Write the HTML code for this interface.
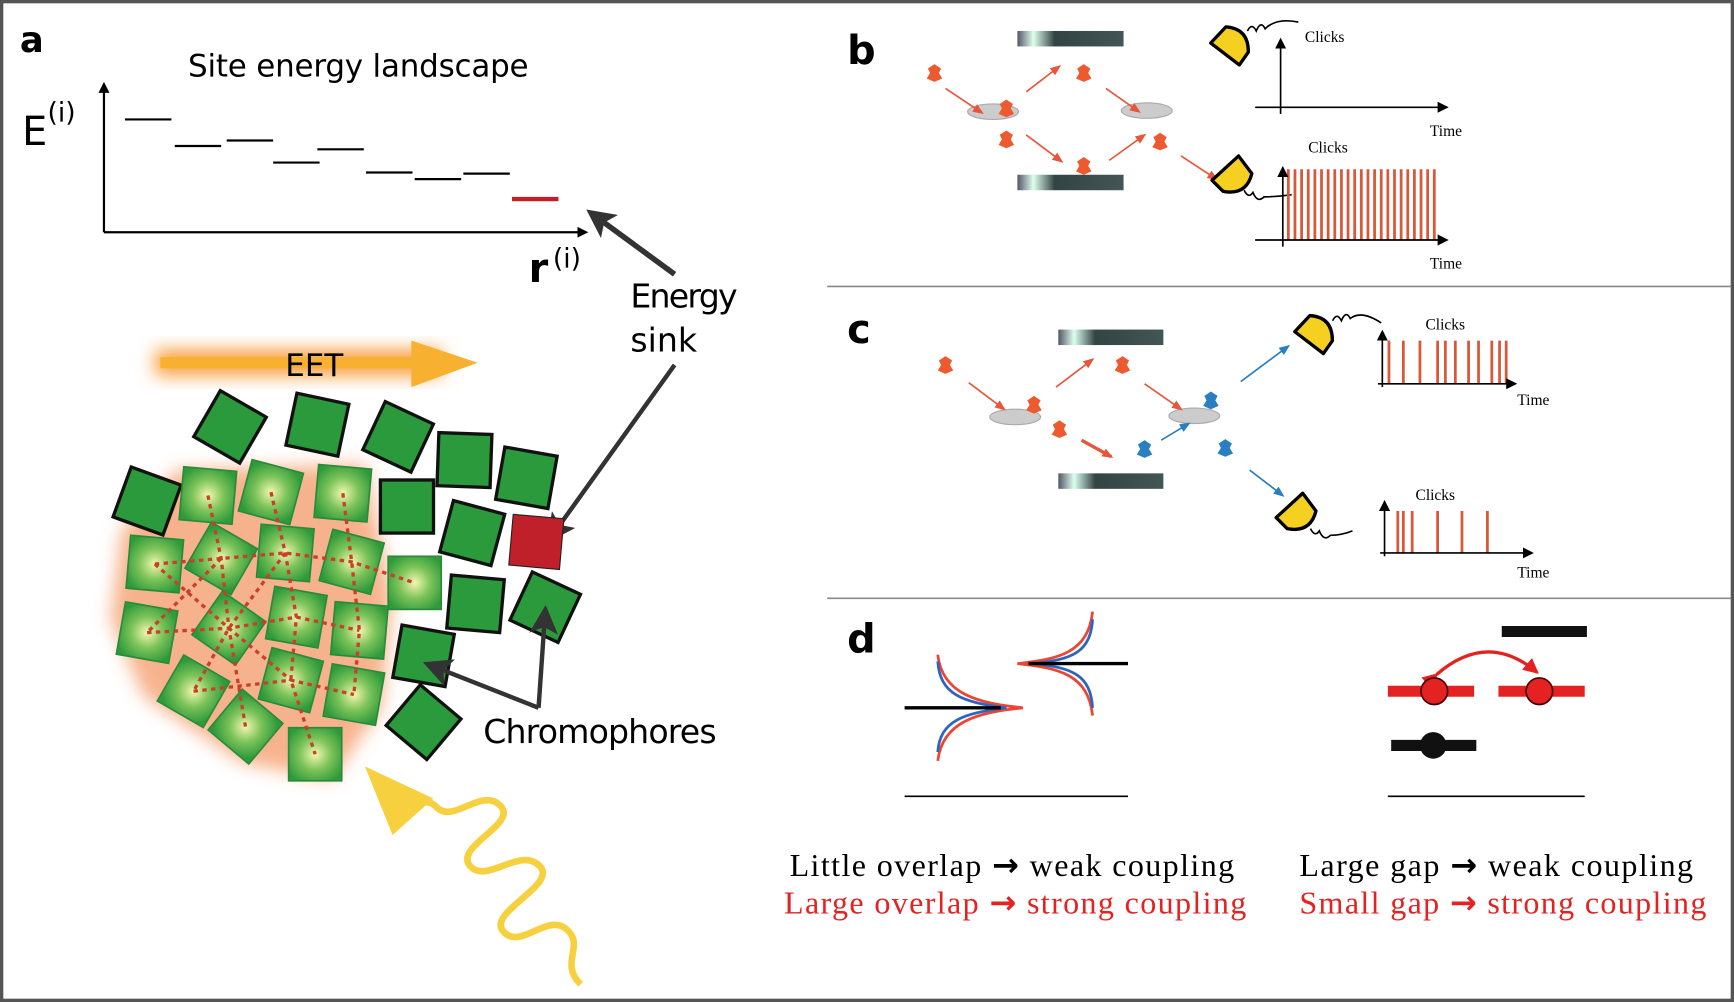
<!DOCTYPE html>
<html><head><meta charset="utf-8"><style>
html,body{margin:0;padding:0;background:#fff;}
svg{display:block;}
.s{font-family:"DejaVu Sans","Liberation Sans",sans-serif;}
.r{font-family:"Liberation Serif",serif;}
</style></head><body>
<svg width="1734" height="1002" viewBox="0 0 1568 906" preserveAspectRatio="none" xmlns="http://www.w3.org/2000/svg">
<defs>
<radialGradient id="gl" cx="50%" cy="50%" r="60%"><stop offset="0" stop-color="#f4f7b0"/><stop offset="0.5" stop-color="#7cc35a"/><stop offset="1" stop-color="#2f9a3a"/></radialGradient>
<filter id="blur" x="-50%" y="-50%" width="200%" height="200%"><feGaussianBlur stdDeviation="8"/></filter>
<linearGradient id="mir" x1="0" y1="0" x2="1" y2="0"><stop offset="0" stop-color="#556"/><stop offset="0.15" stop-color="#dfe"/><stop offset="0.35" stop-color="#344"/><stop offset="1" stop-color="#455"/></linearGradient>
<marker id="ak" markerWidth="10" markerHeight="10" refX="8" refY="5" orient="auto" markerUnits="userSpaceOnUse"><path d="M0,0 L10,5 L0,10 Z" fill="#000"/></marker>
<marker id="ag" markerWidth="26" markerHeight="26" refX="20" refY="13" orient="auto" markerUnits="userSpaceOnUse"><path d="M0,0 L26,13 L0,26 L6,13 Z" fill="#333"/></marker>
<marker id="ar" markerWidth="10" markerHeight="10" refX="8" refY="5" orient="auto" markerUnits="userSpaceOnUse"><path d="M0,1 L10,5 L0,9 Z" fill="#e8553a"/></marker>
<marker id="ab" markerWidth="10" markerHeight="10" refX="8" refY="5" orient="auto" markerUnits="userSpaceOnUse"><path d="M0,1 L10,5 L0,9 Z" fill="#2a7fc0"/></marker>
<marker id="ard" markerWidth="16" markerHeight="16" refX="12" refY="8" orient="auto" markerUnits="userSpaceOnUse"><path d="M0,1 L14,8 L0,15 Z" fill="#e52222"/></marker>
<g id="ph"><path d="M-6,-4 L0,-8 L6,-4 L4,0 L7,5 L0,8 L-7,5 L-4,0 Z" fill="#ee5a30"/></g>
<g id="phb"><path d="M-6,-4 L0,-8 L6,-4 L4,0 L7,5 L0,8 L-7,5 L-4,0 Z" fill="#2a7fc0"/></g>
<g id="det"><path d="M-16,-8 L0,-20 Q20,-15 16,6 L6,16 Z" fill="#f5d020" stroke="#000" stroke-width="3" stroke-linejoin="round"/></g>
<g id="bs"><ellipse cx="0" cy="0" rx="23" ry="7" fill="#ccc" stroke="#aaa"/></g>
</defs>
<rect x="1.5" y="1.5" width="1565" height="903" fill="#fff" stroke="#555" stroke-width="3"/>
<line x1="748" y1="259" x2="1565" y2="259" stroke="#888" stroke-width="1.5"/>
<line x1="748" y1="541" x2="1565" y2="541" stroke="#888" stroke-width="1.5"/>

<!-- panel a -->
<text x="18" y="47" class="s" font-size="32" font-weight="bold">a</text>
<text x="170" y="69" class="s" font-size="28" textLength="308">Site energy landscape</text>
<text x="20" y="131" class="s" font-size="36">E</text><text x="43" y="110" class="s" font-size="24">(i)</text>
<line x1="94" y1="210" x2="94" y2="76" stroke="#000" stroke-width="2" marker-end="url(#ak)"/>
<line x1="94" y1="210" x2="530" y2="210" stroke="#000" stroke-width="2" marker-end="url(#ak)"/>
<g stroke="#000" stroke-width="2">
<line x1="113" y1="108" x2="155" y2="108"/><line x1="158" y1="132" x2="200" y2="132"/><line x1="205" y1="127" x2="247" y2="127"/><line x1="247" y1="147" x2="289" y2="147"/><line x1="287" y1="135" x2="329" y2="135"/><line x1="331" y1="156" x2="373" y2="156"/><line x1="375" y1="162" x2="417" y2="162"/><line x1="419" y1="157" x2="461" y2="157"/>
</g>
<line x1="463" y1="180" x2="505" y2="180" stroke="#c0202a" stroke-width="4"/>
<text x="478" y="255" class="s" font-size="36" font-weight="bold">r</text><text x="500" y="242" class="s" font-size="24">(i)</text>
<line x1="610" y1="248" x2="535" y2="193" stroke="#333" stroke-width="5" marker-end="url(#ag)"/>
<text x="570" y="278" class="s" font-size="30" textLength="97">Energy</text>
<text x="570" y="318" class="s" font-size="30">sink</text>
<line x1="610" y1="330" x2="498" y2="486" stroke="#333" stroke-width="4" marker-end="url(#ag)"/>
<!-- EET -->
<g filter="url(#blur)"><rect x="140" y="316" width="260" height="24" fill="#f8a040"/></g>
<line x1="145" y1="328" x2="390" y2="328" stroke="#f8b030" stroke-width="10"/>
<path d="M372,308 L432,328 L372,350 Z" fill="#f8b030"/>
<text x="258" y="340" class="s" font-size="28">EET</text>
<!-- glow background -->
<g filter="url(#blur)" opacity="0.8">
<path d="M160,425 L330,420 L355,540 L345,640 L300,705 L220,690 L130,630 L100,560 L110,480 Z" fill="#f5a070"/>
</g>
<g stroke="#111" stroke-width="3" fill="#2a9a3c">
<rect x="-24" y="-24" width="48" height="48" transform="translate(208,386) rotate(30)"/>
<rect x="-24" y="-24" width="48" height="48" transform="translate(287,384) rotate(12)"/>
<rect x="-24" y="-24" width="48" height="48" transform="translate(360,395) rotate(25)"/>
<rect x="-24" y="-24" width="48" height="48" transform="translate(420,416) rotate(2)"/>
<rect x="-24" y="-24" width="48" height="48" transform="translate(476,432) rotate(10)"/>
<rect x="-24" y="-24" width="48" height="48" transform="translate(133,453) rotate(20)"/>
<rect x="-24" y="-24" width="48" height="48" transform="translate(368,458) rotate(0)"/>
<rect x="-24" y="-24" width="48" height="48" transform="translate(427,482) rotate(15)"/>
<rect x="-24" y="-24" width="48" height="48" transform="translate(430,546) rotate(5)"/>
<rect x="-24" y="-24" width="48" height="48" transform="translate(493,549) rotate(25)"/>
<rect x="-24" y="-24" width="48" height="48" transform="translate(383,593) rotate(10)"/>
<rect x="-24" y="-24" width="48" height="48" transform="translate(383,653) rotate(40)"/>
</g>
<rect x="-23" y="-23" width="46" height="46" transform="translate(485,490) rotate(5)" fill="#c0202a" stroke="#222" stroke-width="1"/>
<g stroke="#2a8a3a" stroke-width="1.5" fill="url(#gl)">
<rect x="-24" y="-24" width="48" height="48" transform="translate(188,448) rotate(5)"/>
<rect x="-24" y="-24" width="48" height="48" transform="translate(245,445) rotate(15)"/>
<rect x="-24" y="-24" width="48" height="48" transform="translate(310,446) rotate(5)"/>
<rect x="-24" y="-24" width="48" height="48" transform="translate(140,510) rotate(5)"/>
<rect x="-24" y="-24" width="48" height="48" transform="translate(200,505) rotate(30)"/>
<rect x="-24" y="-24" width="48" height="48" transform="translate(258,500) rotate(5)"/>
<rect x="-24" y="-24" width="48" height="48" transform="translate(318,508) rotate(15)"/>
<rect x="-24" y="-24" width="48" height="48" transform="translate(375,527) rotate(0)"/>
<rect x="-24" y="-24" width="48" height="48" transform="translate(133,572) rotate(10)"/>
<rect x="-24" y="-24" width="48" height="48" transform="translate(207,568) rotate(35)"/>
<rect x="-24" y="-24" width="48" height="48" transform="translate(268,558) rotate(10)"/>
<rect x="-24" y="-24" width="48" height="48" transform="translate(325,570) rotate(5)"/>
<rect x="-24" y="-24" width="48" height="48" transform="translate(175,625) rotate(30)"/>
<rect x="-24" y="-24" width="48" height="48" transform="translate(263,615) rotate(15)"/>
<rect x="-24" y="-24" width="48" height="48" transform="translate(320,628) rotate(10)"/>
<rect x="-24" y="-24" width="48" height="48" transform="translate(222,657) rotate(40)"/>
<rect x="-24" y="-24" width="48" height="48" transform="translate(285,682) rotate(0)"/>
</g>
<g stroke="#c8402a" stroke-width="3" stroke-dasharray="4,4" fill="none">
<path d="M140,510 L200,505 L258,500 L318,508 L375,527"/>
<path d="M188,448 L200,505 L207,568 L222,657"/>
<path d="M245,445 L258,500 L268,558 L263,615 L285,682"/>
<path d="M310,446 L318,508 L325,570 L320,628"/>
<path d="M133,572 L207,568 L268,558 L325,570"/>
<path d="M175,625 L263,615 L320,628"/>
<path d="M140,510 L207,568 L263,615"/>
<path d="M200,505 L133,572"/>
<path d="M258,500 L207,568 L175,625"/>
</g>
<text x="437" y="672" class="s" font-size="30" textLength="211">Chromophores</text>
<line x1="487" y1="640" x2="388" y2="601" stroke="#333" stroke-width="4" marker-end="url(#ag)"/>
<line x1="487" y1="640" x2="493" y2="553" stroke="#333" stroke-width="4" marker-end="url(#ag)"/>
<!-- light -->
<path d="M525,890 C505,870 530,855 512,840 C495,825 470,860 455,842 C440,825 505,800 488,783 C470,765 440,800 425,783 C410,765 470,745 452,728 C435,712 410,745 395,730 C385,720 380,728 372,735" fill="none" stroke="#f7d040" stroke-width="6"/>
<path d="M330,693 L392,722 L355,755 Z" fill="#f7d040"/>

<!-- panel b -->
<text x="766" y="58" class="s" font-size="36" font-weight="bold">b</text>
<rect x="920" y="28" width="96" height="14" fill="url(#mir)"/>
<rect x="920" y="158" width="96" height="14" fill="url(#mir)"/>
<use href="#bs" x="898" y="101"/><use href="#bs" x="1037" y="100"/>
<g stroke="#e8553a" stroke-width="1.5" fill="none">
<line x1="855" y1="80" x2="888" y2="102" marker-end="url(#ar)"/>
<line x1="928" y1="83" x2="958" y2="60" marker-end="url(#ar)"/>
<line x1="928" y1="122" x2="960" y2="146" marker-end="url(#ar)"/>
<line x1="1000" y1="80" x2="1030" y2="101" marker-end="url(#ar)"/>
<line x1="1003" y1="145" x2="1035" y2="122" marker-end="url(#ar)"/>
<line x1="1068" y1="141" x2="1100" y2="162" marker-end="url(#ar)"/>
</g>
<use href="#ph" x="845" y="66"/><use href="#ph" x="910" y="98"/><use href="#ph" x="910" y="126"/><use href="#ph" x="980" y="66"/><use href="#ph" x="980" y="150"/><use href="#ph" x="1049" y="128"/>
<use href="#det" transform="translate(1112,44) rotate(-10)"/>
<use href="#det" transform="translate(1112,157) rotate(90)"/>
<path d="M1128,28 q4,-8 8,0 q4,-10 8,-2 q10,-10 30,-6" fill="none" stroke="#000" stroke-width="1.5"/>
<path d="M1125,172 q4,8 8,2 q4,10 10,4 q10,0 25,-2" fill="none" stroke="#000" stroke-width="1.5"/>
<line x1="1158" y1="103" x2="1158" y2="36" stroke="#000" stroke-width="1.5" marker-end="url(#ak)"/>
<line x1="1135" y1="97" x2="1308" y2="97" stroke="#000" stroke-width="1.5" marker-end="url(#ak)"/>
<text x="1180" y="38" class="r" font-size="14">Clicks</text>
<text x="1293" y="123" class="r" font-size="14">Time</text>
<g stroke="#d8583a" stroke-width="2.5">
<line x1="1165" y1="153" x2="1165" y2="217"/><line x1="1171" y1="153" x2="1171" y2="217"/><line x1="1177" y1="153" x2="1177" y2="217"/><line x1="1183" y1="153" x2="1183" y2="217"/><line x1="1189" y1="153" x2="1189" y2="217"/><line x1="1195" y1="153" x2="1195" y2="217"/><line x1="1201" y1="153" x2="1201" y2="217"/><line x1="1207" y1="153" x2="1207" y2="217"/><line x1="1213" y1="153" x2="1213" y2="217"/><line x1="1219" y1="153" x2="1219" y2="217"/><line x1="1225" y1="153" x2="1225" y2="217"/><line x1="1231" y1="153" x2="1231" y2="217"/><line x1="1237" y1="153" x2="1237" y2="217"/><line x1="1243" y1="153" x2="1243" y2="217"/><line x1="1249" y1="153" x2="1249" y2="217"/><line x1="1255" y1="153" x2="1255" y2="217"/><line x1="1261" y1="153" x2="1261" y2="217"/><line x1="1267" y1="153" x2="1267" y2="217"/><line x1="1273" y1="153" x2="1273" y2="217"/><line x1="1279" y1="153" x2="1279" y2="217"/><line x1="1285" y1="153" x2="1285" y2="217"/><line x1="1291" y1="153" x2="1291" y2="217"/><line x1="1297" y1="153" x2="1297" y2="217"/>
</g>
<line x1="1160" y1="223" x2="1160" y2="152" stroke="#000" stroke-width="1.5" marker-end="url(#ak)"/>
<line x1="1135" y1="217" x2="1308" y2="217" stroke="#000" stroke-width="1.5" marker-end="url(#ak)"/>
<text x="1183" y="138" class="r" font-size="14">Clicks</text>
<text x="1293" y="243" class="r" font-size="14">Time</text>

<!-- panel c -->
<text x="766" y="310" class="s" font-size="36" font-weight="bold">c</text>
<rect x="957" y="298" width="95" height="14" fill="url(#mir)"/>
<rect x="957" y="428" width="95" height="14" fill="url(#mir)"/>
<use href="#bs" x="918" y="377"/><use href="#bs" x="1080" y="376"/>
<g stroke="#e8553a" stroke-width="1.5" fill="none">
<line x1="876" y1="346" x2="908" y2="370" marker-end="url(#ar)"/>
<line x1="955" y1="350" x2="988" y2="325" marker-end="url(#ar)"/>
<line x1="1035" y1="347" x2="1068" y2="370" marker-end="url(#ar)"/>
<line x1="978" y1="398" x2="1005" y2="413" stroke-width="3" marker-end="url(#ar)"/>
</g>
<g stroke="#2a7fc0" stroke-width="1.5" fill="none">
<line x1="1050" y1="398" x2="1075" y2="383" marker-end="url(#ab)"/>
<line x1="1122" y1="345" x2="1165" y2="313" marker-end="url(#ab)"/>
<line x1="1130" y1="425" x2="1160" y2="448" marker-end="url(#ab)"/>
</g>
<use href="#ph" x="855" y="330"/><use href="#ph" x="935" y="366"/><use href="#ph" x="958" y="388"/><use href="#ph" x="1015" y="330"/>
<use href="#phb" x="1035" y="406"/><use href="#phb" x="1095" y="362"/><use href="#phb" x="1108" y="405"/>
<use href="#det" transform="translate(1188,305) rotate(-10)"/>
<use href="#det" transform="translate(1170,462) rotate(90)"/>
<path d="M1205,290 q4,-8 8,0 q4,-10 8,-2 q10,-8 28,4" fill="none" stroke="#000" stroke-width="1.5"/>
<path d="M1185,478 q4,8 8,2 q4,10 10,4 q10,0 20,-4" fill="none" stroke="#000" stroke-width="1.5"/>
<g stroke="#d8583a" stroke-width="2.5">
<line x1="1256" y1="308" x2="1256" y2="347"/><line x1="1269" y1="308" x2="1269" y2="347"/><line x1="1284" y1="308" x2="1284" y2="347"/><line x1="1300" y1="308" x2="1300" y2="347"/><line x1="1307" y1="308" x2="1307" y2="347"/><line x1="1316" y1="308" x2="1316" y2="347"/><line x1="1328" y1="308" x2="1328" y2="347"/><line x1="1337" y1="308" x2="1337" y2="347"/><line x1="1349" y1="308" x2="1349" y2="347"/><line x1="1356" y1="308" x2="1356" y2="347"/><line x1="1362" y1="308" x2="1362" y2="347"/>
<line x1="1264" y1="462" x2="1264" y2="500"/><line x1="1269" y1="462" x2="1269" y2="500"/><line x1="1277" y1="462" x2="1277" y2="500"/><line x1="1300" y1="462" x2="1300" y2="500"/><line x1="1322" y1="462" x2="1322" y2="500"/><line x1="1345" y1="462" x2="1345" y2="500"/>
</g>
<line x1="1250" y1="350" x2="1250" y2="300" stroke="#000" stroke-width="1.5" marker-end="url(#ak)"/>
<line x1="1246" y1="347" x2="1370" y2="347" stroke="#000" stroke-width="1.5" marker-end="url(#ak)"/>
<line x1="1252" y1="503" x2="1252" y2="454" stroke="#000" stroke-width="1.5" marker-end="url(#ak)"/>
<line x1="1248" y1="500" x2="1385" y2="500" stroke="#000" stroke-width="1.5" marker-end="url(#ak)"/>
<text x="1289" y="298" class="r" font-size="14">Clicks</text>
<text x="1372" y="366" class="r" font-size="14">Time</text>
<text x="1280" y="452" class="r" font-size="14">Clicks</text>
<text x="1372" y="522" class="r" font-size="14">Time</text>

<!-- panel d -->
<text x="766" y="590" class="s" font-size="36" font-weight="bold">d</text>
<path d="M848,592 C852,628 885,636 925,640 C885,644 852,652 848,688" fill="none" stroke="#ee4433" stroke-width="2.5"/>
<path d="M848,598 C850,628 870,635 910,640 C870,645 850,652 848,680" fill="none" stroke="#2a66c0" stroke-width="2.5"/>
<line x1="818" y1="640" x2="905" y2="640" stroke="#000" stroke-width="3"/>
<path d="M988,553 C984,590 958,596 920,600 C958,604 984,610 988,647" fill="none" stroke="#ee4433" stroke-width="2.5"/>
<path d="M988,560 C986,590 970,596 935,600 C970,604 986,610 988,640" fill="none" stroke="#2a66c0" stroke-width="2.5"/>
<line x1="930" y1="600" x2="1020" y2="600" stroke="#000" stroke-width="3"/>
<line x1="818" y1="720" x2="1020" y2="720" stroke="#000" stroke-width="1.5"/>
<line x1="1358" y1="571" x2="1435" y2="571" stroke="#111" stroke-width="10"/>
<line x1="1255" y1="625" x2="1333" y2="625" stroke="#e52222" stroke-width="10"/>
<line x1="1355" y1="625" x2="1433" y2="625" stroke="#e52222" stroke-width="10"/>
<path d="M1299,610 Q1345,570 1390,608" fill="none" stroke="#e52222" stroke-width="3" marker-start="url(#ard)" marker-end="url(#ard)"/>
<circle cx="1297" cy="625" r="12" fill="#e52222" stroke="#400" stroke-width="1.5"/>
<circle cx="1392" cy="625" r="12" fill="#e52222" stroke="#400" stroke-width="1.5"/>
<line x1="1258" y1="674" x2="1335" y2="674" stroke="#111" stroke-width="10"/>
<circle cx="1296" cy="674" r="12" fill="#111"/>
<line x1="1255" y1="720" x2="1433" y2="720" stroke="#000" stroke-width="1.5"/>
<text x="714" y="792" class="r" font-size="29" textLength="402" lengthAdjust="spacing">Little overlap <tspan font-family="DejaVu Sans" font-weight="bold">→</tspan> weak coupling</text>
<text x="709" y="826" class="r" font-size="29" fill="#e52222" textLength="418" lengthAdjust="spacing">Large overlap <tspan font-family="DejaVu Sans" font-weight="bold">→</tspan> strong coupling</text>
<text x="1175" y="792" class="r" font-size="29" textLength="356" lengthAdjust="spacing">Large gap <tspan font-family="DejaVu Sans" font-weight="bold">→</tspan> weak coupling</text>
<text x="1175" y="826" class="r" font-size="29" fill="#e52222" textLength="368" lengthAdjust="spacing">Small gap <tspan font-family="DejaVu Sans" font-weight="bold">→</tspan> strong coupling</text>
</svg>
</body></html>
